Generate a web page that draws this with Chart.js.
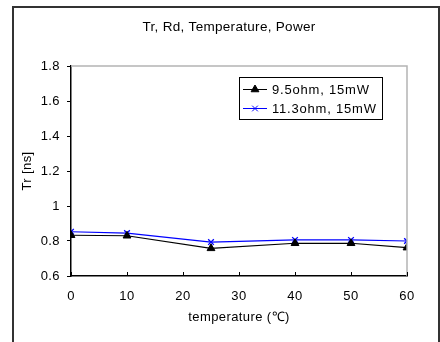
<!DOCTYPE html>
<html>
<head>
<meta charset="utf-8">
<script src="https://cdn.jsdelivr.net/npm/chart.js@4"></script>
<style>
	html, body { margin: 0; padding: 0; background: #fff; }
	#wrap { width: 440px; height: 342px; }
</style>
</head>
<body>
<div id="wrap"><canvas id="trChart" width="440" height="342"></canvas></div>
<script>
	'use strict'
	// values
	var temps = [0, 10, 25, 40, 50, 60];
	var tr95 = [0.833, 0.830, 0.758, 0.787, 0.787, 0.762];
	var tr113 = [0.853, 0.845, 0.794, 0.806, 0.806, 0.800];
	var seriesLabels = ['9.5ohm, 15mW', '11.3ohm, 15mW'];
	var xTicks = [0, 10, 20, 30, 40, 50, 60];
	var yTicks = [0.6, 0.8, 1, 1.2, 1.4, 1.6, 1.8];
	var chartTitle = 'Tr, Rd, Temperature, Power';

	function toPoints(xs, ys) {
		return xs.map(function(x, i) { return { x: x, y: ys[i] }; });
	}

	var FONT = 'Liberation Sans, Arial, sans-serif';

	/*----frame, title, inward x ticks, grey top/right edge----*/
	var framePlugin = {
		id: 'frame',
		beforeDraw: function(chart) {
			var c = chart.ctx;
			c.save();
			c.fillStyle = '#fff';
			c.fillRect(0, 0, chart.width, chart.height);
			c.strokeStyle = '#333';
			c.lineWidth = 2;
			c.strokeRect(13, 7, 426, 340);
			c.fillStyle = '#000';
			c.font = '13.5px ' + FONT;
			c.letterSpacing = '0.3px';
			c.textAlign = 'center';
			c.textBaseline = 'middle';
			c.fillText(chartTitle, 229, 27);
			c.restore();
			c.letterSpacing = '0.4px';
		},
		afterDraw: function(chart) {
			var c = chart.ctx, a = chart.chartArea, xs = chart.scales.x;
			c.save();
			c.strokeStyle = '#b4b4b4';
			c.lineWidth = 1.5;
			c.beginPath();
			c.moveTo(a.left, a.top);
			c.lineTo(a.right, a.top);
			c.lineTo(a.right, a.bottom);
			c.stroke();
			c.strokeStyle = '#000';
			c.lineWidth = 1;
			xTicks.forEach(function(t) {
				var px = Math.round(xs.getPixelForValue(t)) + 0.5;
				c.beginPath();
				c.moveTo(px, a.bottom);
				c.lineTo(px, a.bottom - 4);
				c.stroke();
			});
			c.restore();
		}
	};

	/*----boxed legend inside the plot----*/
	var boxLegend = {
		id: 'boxLegend',
		afterDraw: function(chart) {
			var c = chart.ctx, a = chart.chartArea;
			var bx = a.left + 168, by = a.top + 11, bw = 143, bh = 42;
			c.save();
			c.fillStyle = '#fff';
			c.fillRect(bx, by, bw, bh);
			c.strokeStyle = '#000';
			c.lineWidth = 1;
			c.strokeRect(bx + 0.5, by + 0.5, bw, bh);
			c.font = '13px ' + FONT;
			c.textBaseline = 'middle';
			c.letterSpacing = '0.8px';
			chart.data.datasets.forEach(function(ds, i) {
				var yy = by + 12 + i * 19;
				c.strokeStyle = ds.borderColor;
				c.fillStyle = ds.backgroundColor;
				c.lineWidth = 1;
				c.beginPath();
				c.moveTo(bx + 4, yy + 0.5);
				c.lineTo(bx + 28, yy + 0.5);
				c.stroke();
				Chart.helpers.drawPoint(c, {
					pointStyle: ds.pointStyle,
					radius: ds.pointRadius,
					borderWidth: ds.pointBorderWidth || 1,
					rotation: 0
				}, bx + 16, yy + 0.5);
				c.fillStyle = '#000';
				c.fillText(ds.label, bx + 33, yy + 1);
			});
			c.restore();
		}
	};

	var ctx = document.getElementById('trChart');
	var myChart = new Chart(ctx, {
		type: 'line',
		data: {
			datasets: [{
				label: seriesLabels[0],
				data: toPoints(temps, tr95),
				borderColor: '#000',
				backgroundColor: '#000',
				borderWidth: 1.2,
				pointStyle: 'triangle',
				pointRadius: 4.5,
				pointBorderWidth: 1,
				tension: 0
			}, {
				label: seriesLabels[1],
				data: toPoints(temps, tr113),
				borderColor: '#0000ff',
				backgroundColor: '#0000ff',
				borderWidth: 1.2,
				pointStyle: 'crossRot',
				pointRadius: 4,
				pointBorderWidth: 1.3,
				tension: 0
			}]
		},
		options: {
			responsive: false,
			animation: false,
			events: [],
			layout: { padding: { left: 14, right: 33, top: 66, bottom: 0 } },
			plugins: {
				legend: { display: false },
				tooltip: { enabled: false },
				title: { display: false }
			},
			scales: {
				x: {
					type: 'linear',
					min: 0,
					max: 60,
					afterFit: function(s) { s.height = 66; },
					afterBuildTicks: function(s) {
						s.ticks = xTicks.map(function(v) { return { value: v }; });
					},
					grid: { display: true, drawOnChartArea: false, drawTicks: false },
					border: { color: '#000', width: 1.5 },
					ticks: {
						color: '#000',
						padding: 13,
						font: { family: FONT, size: 13 }
					},
					title: {
						display: true,
						text: 'temperature (\u2103)',
						color: '#000',
						font: { family: FONT, size: 13 },
						padding: { top: 0, bottom: 17 }
					}
				},
				y: {
					min: 0.6,
					max: 1.8,
					afterFit: function(s) { s.width = 57; },
					afterBuildTicks: function(s) {
						s.ticks = yTicks.map(function(v) { return { value: v }; });
					},
					grid: { drawOnChartArea: false, color: '#000', tickLength: 4 },
					border: { color: '#000', width: 1.5 },
					ticks: {
						color: '#000',
						padding: 7,
						font: { family: FONT, size: 13 },
						callback: function(v) { return String(Math.round(v * 10) / 10); }
					},
					title: {
						display: true,
						text: 'Tr [ns]',
						color: '#000',
						font: { family: FONT, size: 13 },
						padding: { top: 6, bottom: 0 }
					}
				}
			}
		},
		plugins: [framePlugin, boxLegend]
	});
</script>
</body>
</html>
